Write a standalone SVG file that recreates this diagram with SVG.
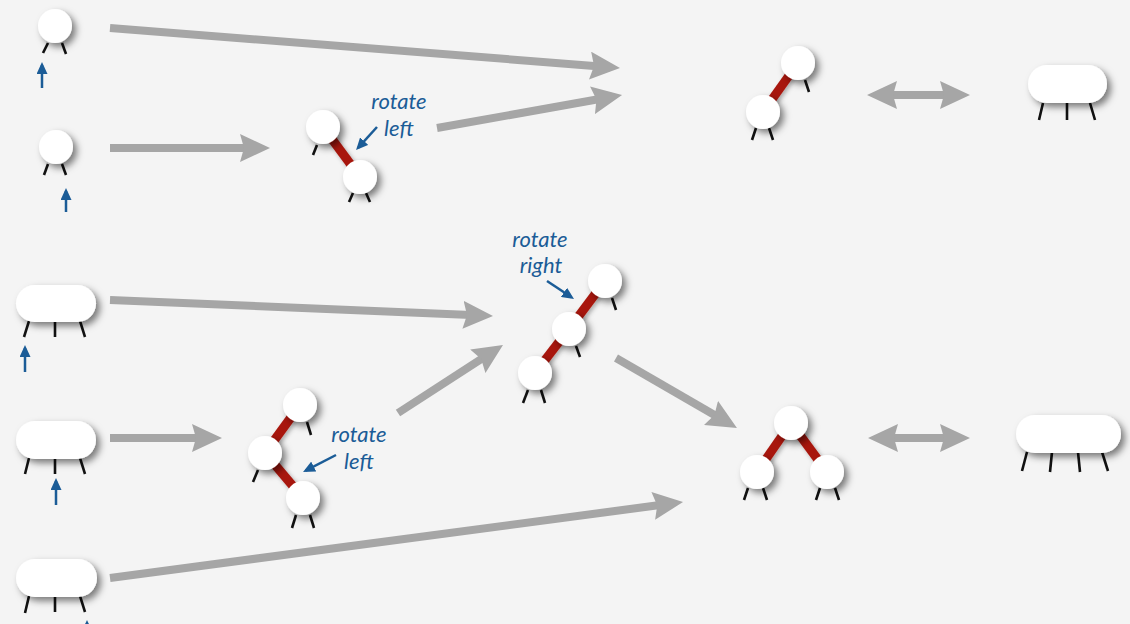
<svg xmlns="http://www.w3.org/2000/svg" width="1130" height="624" viewBox="0 0 1130 624">
<style>
.bg{fill:#f4f4f4}
.nd{fill:#ffffff;filter:url(#sh)}
.lk{stroke:#a8170c;stroke-width:9;fill:none;filter:url(#sh2)}
.lg{stroke:#111;stroke-width:2.6;fill:none}
.ga{stroke:#a6a6a6;stroke-width:8;fill:none;marker-end:url(#gh)}
.gd{stroke:#a6a6a6;stroke-width:8;fill:none;marker-end:url(#gh);marker-start:url(#gh)}
.ba{stroke:#1b5c97;stroke-width:2.5;fill:none;marker-end:url(#bh)}
.lb{font-family:Lato,"Open Sans",sans-serif;font-style:italic;font-size:22px;fill:#1b5c97;text-anchor:middle}
</style>
<defs>
<filter id="sh" x="-50%" y="-50%" width="200%" height="200%">
<feDropShadow dx="4" dy="4" stdDeviation="3.5" flood-color="#000" flood-opacity="0.5"/>
</filter>
<filter id="sh2" x="-50%" y="-50%" width="200%" height="200%">
<feDropShadow dx="2" dy="2" stdDeviation="2" flood-color="#000" flood-opacity="0.3"/>
</filter>
<marker id="gh" markerUnits="userSpaceOnUse" viewBox="0 0 30 28" markerWidth="30" markerHeight="28" refX="20" refY="14" orient="auto-start-reverse">
<path d="M0,0 L30,14 L0,28 L4,14 z" fill="#a6a6a6"/>
</marker>
<marker id="bh" markerUnits="userSpaceOnUse" viewBox="0 0 12 11" markerWidth="12" markerHeight="11" refX="9" refY="5.5" orient="auto">
<path d="M0,0 L12,5.5 L0,11 z" fill="#1b5c97"/>
</marker>
</defs>
<rect class="bg" x="0" y="0" width="1130" height="624"/>

<g id="connectors">
<line class="ga" x1="110" y1="28" x2="610" y2="67.2"/>
<line class="ga" x1="437" y1="128" x2="612.2" y2="96.8"/>
<line class="ga" x1="110" y1="148" x2="260" y2="148"/>
<line class="gd" x1="877" y1="95" x2="960" y2="95"/>
<line class="ga" x1="110" y1="300" x2="483" y2="315.6"/>
<line class="ga" x1="110" y1="438" x2="212" y2="438"/>
<line class="ga" x1="398" y1="413" x2="494.6" y2="350.4"/>
<line class="ga" x1="616" y1="358" x2="728.3" y2="423"/>
<line class="ga" x1="110" y1="578" x2="673.1" y2="503.3"/>
<line class="gd" x1="878" y1="438" x2="960" y2="438"/>
</g>

<g id="node-a">
<line class="lg" x1="48" y1="43" x2="43" y2="53"/>
<line class="lg" x1="62" y1="43" x2="66" y2="54"/>
<circle class="nd" cx="55" cy="26" r="17"/>
<line class="ba" x1="42" y1="88" x2="42" y2="65"/>
</g>

<g id="node-b">
<line class="lg" x1="48" y1="164" x2="44" y2="175"/>
<line class="lg" x1="62" y1="164" x2="66" y2="175"/>
<circle class="nd" cx="56" cy="147" r="17"/>
<line class="ba" x1="66" y1="212" x2="66" y2="191"/>
</g>

<g id="node-c">
<line class="lk" x1="323" y1="127" x2="360" y2="177"/>
<line class="lg" x1="317" y1="145" x2="313" y2="155"/>
<line class="lg" x1="353" y1="193" x2="349" y2="202"/>
<line class="lg" x1="366" y1="193" x2="370" y2="202"/>
<circle class="nd" cx="323" cy="127" r="17"/>
<circle class="nd" cx="360" cy="177" r="17"/>
<text class="lb" x="399" y="109">rotate</text>
<text class="lb" x="399" y="135.5">left</text>
<line class="ba" x1="377" y1="127" x2="358.1" y2="147.8"/>
</g>

<g id="node-d">
<line class="lk" x1="798" y1="63" x2="763" y2="112"/>
<line class="lg" x1="805" y1="80" x2="809" y2="92"/>
<line class="lg" x1="756" y1="128" x2="752" y2="140"/>
<line class="lg" x1="769" y1="128" x2="773" y2="140"/>
<circle class="nd" cx="798" cy="63" r="17"/>
<circle class="nd" cx="763" cy="112" r="17"/>
</g>

<g id="node-e">
<line class="lg" x1="1043" y1="103" x2="1039" y2="120"/>
<line class="lg" x1="1067" y1="103" x2="1067" y2="120"/>
<line class="lg" x1="1090" y1="103" x2="1095" y2="120"/>
<rect class="nd" x="1028" y="65" width="79" height="38" rx="19"/>
</g>

<g id="node-f">
<line class="lg" x1="29" y1="321" x2="24" y2="337"/>
<line class="lg" x1="55" y1="321" x2="55" y2="337"/>
<line class="lg" x1="80" y1="321" x2="85" y2="337"/>
<rect class="nd" x="16" y="285" width="80" height="37" rx="18.5"/>
<line class="ba" x1="25" y1="372" x2="25" y2="348"/>
</g>

<g id="node-g">
<line class="lg" x1="29" y1="458" x2="25" y2="474"/>
<line class="lg" x1="55" y1="458" x2="55" y2="474"/>
<line class="lg" x1="80" y1="458" x2="85" y2="474"/>
<rect class="nd" x="16" y="421" width="80" height="38" rx="19"/>
<line class="ba" x1="56" y1="505" x2="56" y2="481"/>
</g>

<g id="node-h">
<line class="lg" x1="29" y1="596" x2="25" y2="613"/>
<line class="lg" x1="55" y1="596" x2="55" y2="612"/>
<line class="lg" x1="80" y1="596" x2="85" y2="612"/>
<rect class="nd" x="16" y="559" width="81" height="38" rx="19"/>
<line class="ba" x1="87" y1="640" x2="87" y2="623"/>
</g>

<g id="node-i">
<line class="lk" x1="300" y1="405" x2="265" y2="453"/>
<line class="lk" x1="265" y1="453" x2="303" y2="498"/>
<line class="lg" x1="307" y1="422" x2="311" y2="435"/>
<line class="lg" x1="258" y1="470" x2="253" y2="482"/>
<line class="lg" x1="296" y1="515" x2="292" y2="528"/>
<line class="lg" x1="310" y1="515" x2="314" y2="528"/>
<circle class="nd" cx="300" cy="405" r="17"/>
<circle class="nd" cx="265" cy="453" r="17"/>
<circle class="nd" cx="303" cy="498" r="17"/>
<text class="lb" x="359" y="442">rotate</text>
<text class="lb" x="359" y="468.5">left</text>
<line class="ba" x1="336" y1="455" x2="305.7" y2="470.6"/>
</g>

<g id="node-j">
<line class="lk" x1="605" y1="281" x2="569" y2="329"/>
<line class="lk" x1="569" y1="329" x2="535" y2="373"/>
<line class="lg" x1="612" y1="298" x2="616" y2="310"/>
<line class="lg" x1="576" y1="346" x2="580" y2="357"/>
<line class="lg" x1="528" y1="390" x2="523" y2="403"/>
<line class="lg" x1="541" y1="390" x2="545" y2="403"/>
<circle class="nd" cx="605" cy="281" r="17"/>
<circle class="nd" cx="569" cy="329" r="17"/>
<circle class="nd" cx="535" cy="373" r="17"/>
<text class="lb" x="540" y="246.5">rotate</text>
<text class="lb" x="541" y="273">right</text>
<line class="ba" x1="547" y1="281" x2="571.5" y2="297.3"/>
</g>

<g id="node-k">
<line class="lk" x1="791" y1="423" x2="757" y2="472"/>
<line class="lk" x1="791" y1="423" x2="827" y2="472"/>
<line class="lg" x1="748" y1="488" x2="744" y2="500"/>
<line class="lg" x1="763" y1="488" x2="767" y2="500"/>
<line class="lg" x1="820" y1="488" x2="816" y2="500"/>
<line class="lg" x1="835" y1="488" x2="839" y2="500"/>
<circle class="nd" cx="791" cy="423" r="17"/>
<circle class="nd" cx="757" cy="472" r="17"/>
<circle class="nd" cx="827" cy="472" r="17"/>
</g>

<g id="node-l">
<line class="lg" x1="1027" y1="452" x2="1022" y2="471"/>
<line class="lg" x1="1052" y1="452" x2="1050" y2="472"/>
<line class="lg" x1="1078" y1="452" x2="1080" y2="472"/>
<line class="lg" x1="1102" y1="452" x2="1108" y2="471"/>
<rect class="nd" x="1016" y="415" width="105" height="38" rx="19"/>
</g>
</svg>
